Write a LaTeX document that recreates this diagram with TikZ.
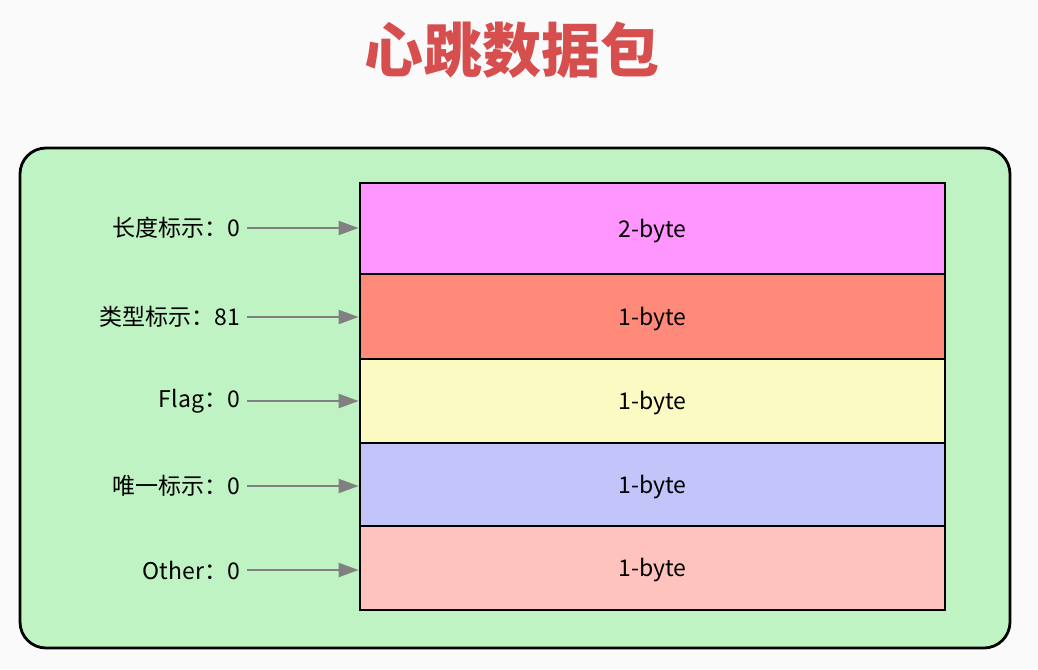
\documentclass[tikz,border=0pt]{standalone}
\usepackage{fontspec}
\setmainfont{Noto Sans CJK SC}
\usepackage{tikz}
\usetikzlibrary{arrows.meta,positioning,calc}

\definecolor{boxgreen}{RGB}{192,243,196}
\definecolor{fldmagenta}{RGB}{255,150,255}
\definecolor{fldsalmon}{RGB}{255,138,122}
\definecolor{fldyellow}{RGB}{251,250,194}
\definecolor{fldlavender}{RGB}{194,196,250}
\definecolor{fldpink}{RGB}{255,195,189}
\definecolor{titlered}{RGB}{214,78,78}
\definecolor{arrgray}{RGB}{128,128,128}

\begin{document}
\begin{tikzpicture}[
    x=1pt, y=-1pt,
    field/.style={draw, line width=2.8pt, minimum width=585pt, inner sep=0pt, text height=22pt, text depth=5pt, font=\fontsize{23}{26}\selectfont},
    lbl/.style={anchor=east, inner sep=7pt, font=\fontsize{23}{26}\selectfont},
    arr/.style={-{Triangle[length=20pt,width=14pt]}, line width=2.2pt, arrgray}
]
    \useasboundingbox[fill=white!98!black] (0,0) rectangle (1038,669);

    % Title
    \node[font=\fontsize{59}{62}\selectfont\bfseries, titlered] (title) at (512,50) {心跳数据包};

    % Outer green frame
    \draw[line width=2.8pt, fill=boxgreen, rounded corners=26pt] (20,148) rectangle (1010,648);

    % Field stack (top to bottom)
    \node[field, fill=fldmagenta, minimum height=91pt] (r1) at (652.5,228.5) {2-byte};
    \node[field, fill=fldsalmon, minimum height=85pt] (r2) at (652.5,316.5) {1-byte};
    \node[field, fill=fldyellow, minimum height=84pt] (r3) at (652.5,401) {1-byte};
    \node[field, fill=fldlavender, minimum height=83pt] (r4) at (652.5,484.5) {1-byte};
    \node[field, fill=fldpink, minimum height=84pt] (r5) at (652.5,568) {1-byte};

    % Left-side values
    \node[lbl] (l1) at (247,228) {长度标示：0};
    \node[lbl] (l2) at (247,317) {类型标示：81};
    \node[lbl] (l3) at (247,401) {Flag：0};
    \node[lbl] (l4) at (247,486) {唯一标示：0};
    \node[lbl] (l5) at (247,570) {Other：0};

    % Arrows into the fields
    \draw[arr] (l1.east) -- (l1.east -| r1.west);
    \draw[arr] (l2.east) -- (l2.east -| r2.west);
    \draw[arr] (l3.east) -- (l3.east -| r3.west);
    \draw[arr] (l4.east) -- (l4.east -| r4.west);
    \draw[arr] (l5.east) -- (l5.east -| r5.west);
\end{tikzpicture}
\end{document}
